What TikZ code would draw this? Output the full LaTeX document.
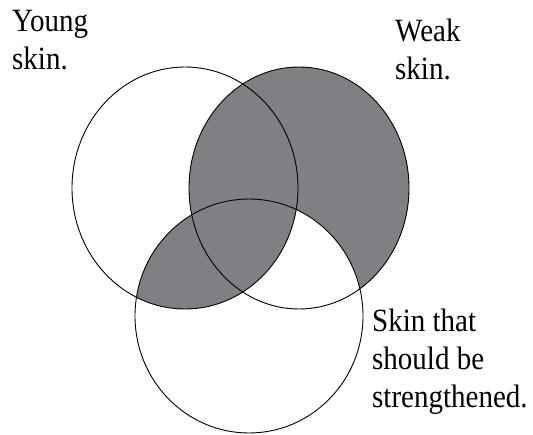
\documentclass[tikz,border=0pt]{standalone}
\usepackage{fontspec}
\setmainfont{Liberation Serif}
\definecolor{venngray}{RGB}{128,127,131}
\begin{document}
\begin{tikzpicture}[x=1pt,y=-1pt,
  lbl/.style={anchor=base west,inner sep=0pt,font=\fontsize{29}{38}\selectfont},
  ring/.style={draw=black,line width=0.9pt}]
\useasboundingbox (0,0) rectangle (533,435);
\fill[white] (0,0) rectangle (533,435);
% regions
\def\Ypath{(185,188) ellipse [x radius=113pt, y radius=121pt]}
\def\Wpath{(299,188) ellipse [x radius=110pt, y radius=121pt]}
\def\Bpath{(249,316) ellipse [x radius=114pt, y radius=117pt]}
\fill[venngray] \Wpath;
\begin{scope}
  \clip \Wpath;
  \fill[white] \Bpath;
\end{scope}
\begin{scope}
  \clip \Ypath;
  \fill[venngray] \Bpath;
\end{scope}
\draw[ring] \Ypath;
\draw[ring] \Wpath;
\draw[ring] \Bpath;
% labels
\node[lbl] (y1) at (12,32) {\scalebox{1}[1.12]{Young}};
\node[lbl] (y2) at (12,70) {\scalebox{1}[1.12]{skin.}};
\node[lbl] (w1) at (395,42) {\scalebox{1}[1.12]{Weak}};
\node[lbl] (w2) at (395,80) {\scalebox{1}[1.12]{skin.}};
\node[lbl] (s1) at (372,332) {\scalebox{1}[1.12]{Skin that}};
\node[lbl] (s2) at (372,370) {\scalebox{1}[1.12]{should be}};
\node[lbl] (s3) at (372,408) {\scalebox{1}[1.12]{strengthened.}};
\end{tikzpicture}
\end{document}
